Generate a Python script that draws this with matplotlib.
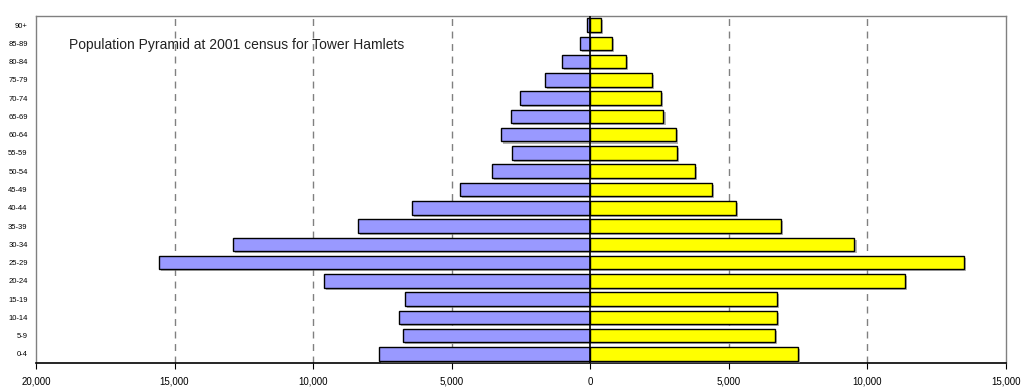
import matplotlib
matplotlib.use("Agg")
import matplotlib.pyplot as plt
import matplotlib.patheffects as pe
from matplotlib.ticker import FuncFormatter, MultipleLocator

age_groups = ["0-4", "5-9", "10-14", "15-19", "20-24", "25-29", "30-34", "35-39",
              "40-44", "45-49", "50-54", "55-59", "60-64", "65-69", "70-74",
              "75-79", "80-84", "85-89", "90+"]
males = [7640, 6760, 6910, 6700, 9600, 15550, 12880, 8390, 6420, 4700, 3560,
         2840, 3220, 2850, 2540, 1630, 1020, 370, 130]
females = [7490, 6670, 6730, 6730, 11350, 13470, 9530, 6880, 5250, 4400, 3780,
           3120, 3080, 2640, 2550, 2240, 1280, 780, 400]
title = "Population Pyramid at 2001 census for Tower Hamlets"

plt.rcParams['font.family'] = ['Liberation Sans', 'DejaVu Sans']

fig = plt.figure(figsize=(10.25, 3.87), dpi=100)
ax = fig.add_axes([0.0351, 0.062, 0.9464, 0.8967])

y = list(range(len(age_groups)))
shadow = [pe.SimplePatchShadow(offset=(1.5, -1.5), shadow_rgbFace='#808080', alpha=0.6), pe.Normal()]
bm = ax.barh(y, [-m for m in males], height=0.74, color='#9999FF', edgecolor='black', linewidth=1.0, zorder=3)
bf = ax.barh(y, females, height=0.74, color='#FFFF00', edgecolor='black', linewidth=1.0, zorder=3)
for b in list(bm) + list(bf):
    b.set_path_effects(shadow)

ax.set_xlim(-20000, 15000)
ax.set_ylim(-0.5, len(age_groups) - 0.5)
ax.xaxis.set_major_locator(MultipleLocator(5000))
ax.xaxis.set_major_formatter(FuncFormatter(lambda v, p: f"{abs(int(v)):,}"))
for v in [-15000, -10000, -5000, 5000, 10000]:
    ax.axvline(v, color='#808080', linestyle=(0, (5, 4)), linewidth=1.0, zorder=1)
ax.axvline(0, color='black', linewidth=1.2, zorder=4)

ax.set_yticks(y)
ax.set_yticklabels(age_groups, fontsize=5.5)
ax.tick_params(axis='y', length=0, pad=6)
ax.tick_params(axis='x', length=4, direction='out', labelsize=7, pad=6, color='black')

for s in ['top', 'right', 'left']:
    ax.spines[s].set_color('#808080')
    ax.spines[s].set_linewidth(1.0)
ax.spines['bottom'].set_color('black')
ax.spines['bottom'].set_linewidth(1.2)

ax.text(0.0337, 0.915, title, transform=ax.transAxes, fontsize=10, color='#222222',
        ha='left', va='center')

fig.savefig("out.png", dpi=100)
